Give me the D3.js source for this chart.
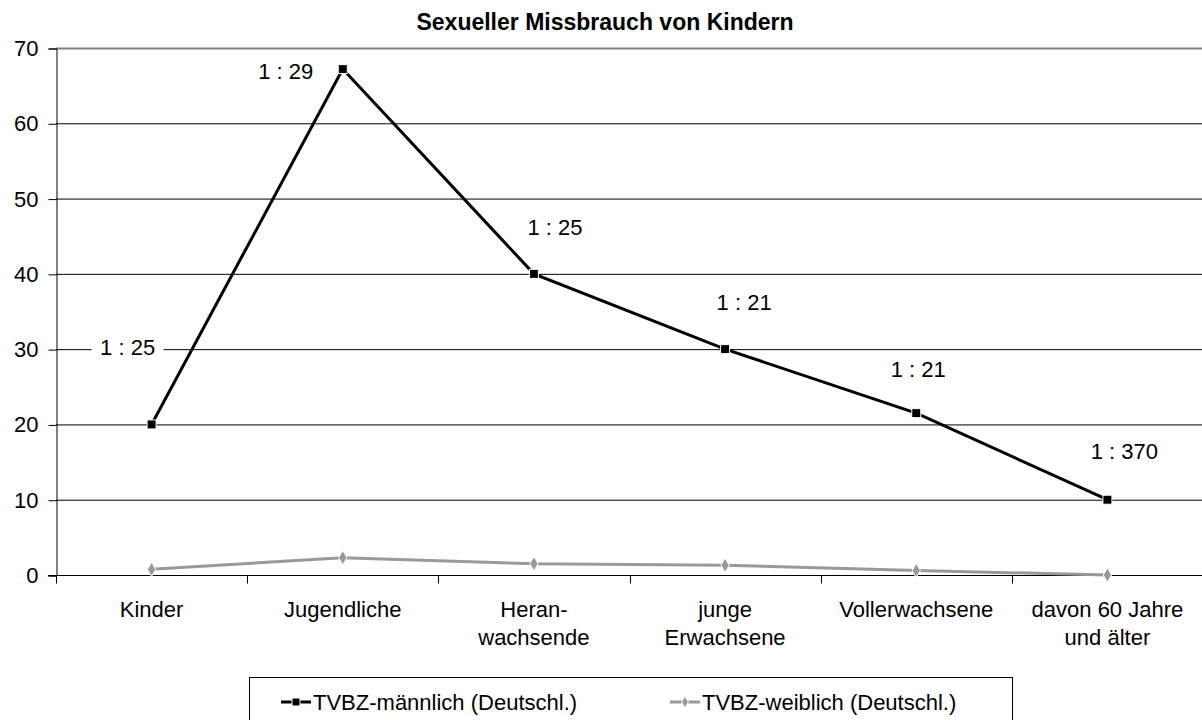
<!DOCTYPE html>
<html>
<head>
<meta charset="utf-8">
<script src="https://cdn.jsdelivr.net/npm/d3@7"></script>
<style>
  body { margin: 0; background: #fff; }
  svg { font-family: "Liberation Sans", Arial, sans-serif; }
</style>
</head>
<body>
<div id="chart"></div>
<script>
var categories = [["Kinder"], ["Jugendliche"], ["Heran-", "wachsende"], ["junge", "Erwachsene"], ["Vollerwachsene"], ["davon 60 Jahre", "und älter"]];
var maleValues = [20, 67.2, 40, 30, 21.5, 10];
var femaleValues = [0.75, 2.3, 1.5, 1.3, 0.6, 0];
var ratioLabels = ["1 : 25", "1 : 29", "1 : 25", "1 : 21", "1 : 21", "1 : 370"];
var yTicks = [0, 10, 20, 30, 40, 50, 60, 70];
var seriesNames = ["TVBZ-männlich (Deutschl.)", "TVBZ-weiblich (Deutschl.)"];

// label placement relative to the point (px)
var labelOffsets = [[-24, -77], [-57, 2], [21, -47], [19, -47], [2, -44], [17, -48]];

const width = 1202, height = 720;
const margin = { left: 56, right: -1, top: 48, bottom: 145 };
const fontSize = 22;

var svg = d3.select("#chart").append("svg")
    .attr("width", width)
    .attr("height", height);

var idx = d3.range(categories.length);

var x = d3.scaleBand()
    .domain(idx)
    .range([margin.left, width - margin.right])
    .padding(0);

var y = d3.scaleLinear()
    .domain([0, 70])
    .range([height - margin.bottom, margin.top]);

// gridlines
svg.append("g")
    .selectAll("line")
    .data(yTicks.filter(d => d > 0))
    .enter().append("line")
    .attr("x1", margin.left)
    .attr("x2", width)
    .attr("y1", d => y(d) + 0.5)
    .attr("y2", d => y(d) + 0.5)
    .attr("stroke", d => d === 70 ? "#808080" : "#000")
    .attr("stroke-width", d => d === 70 ? 2 : 1);

// y axis
var yAxis = svg.append("g")
    .attr("transform", "translate(" + (margin.left + 0.5) + ",0.5)")
    .call(d3.axisLeft(y).tickValues(yTicks).tickSize(8).tickPadding(10));
yAxis.select(".domain").attr("stroke", "#000");
yAxis.selectAll("text").attr("font-size", fontSize).attr("fill", "#000")
    .attr("font-family", "Liberation Sans, Arial, sans-serif");

// x axis
var xAxisY = y(0) + 0.5;
svg.append("line")
    .attr("x1", margin.left - 8).attr("x2", width)
    .attr("y1", xAxisY).attr("y2", xAxisY)
    .attr("stroke", "#000");
svg.append("g")
    .selectAll("line")
    .data(d3.range(categories.length + 1))
    .enter().append("line")
    .attr("x1", d => Math.round(margin.left + d * x.bandwidth()) + 0.5)
    .attr("x2", d => Math.round(margin.left + d * x.bandwidth()) + 0.5)
    .attr("y1", xAxisY)
    .attr("y2", xAxisY + 8)
    .attr("stroke", "#000");

var catText = svg.append("g")
    .selectAll("text")
    .data(categories)
    .enter().append("text")
    .attr("x", (d, i) => x(i) + x.bandwidth() / 2)
    .attr("y", 617)
    .attr("text-anchor", "middle")
    .attr("font-size", fontSize);
catText.selectAll("tspan")
    .data(d => d)
    .enter().append("tspan")
    .attr("x", function () { return this.parentNode.getAttribute("x"); })
    .attr("dy", (d, i) => i === 0 ? 0 : 28)
    .text(d => d);

var cx = i => x(i) + x.bandwidth() / 2;

var line = d3.line()
    .x((d, i) => cx(i))
    .y(d => y(d));

// female series
svg.append("path")
    .attr("d", line(femaleValues))
    .attr("fill", "none")
    .attr("stroke", "#999")
    .attr("stroke-width", 3);
svg.append("g")
    .selectAll("path")
    .data(femaleValues)
    .enter().append("path")
    .attr("d", d3.symbol(d3.symbolDiamond, 60))
    .attr("transform", (d, i) => "translate(" + cx(i) + "," + y(d) + ")")
    .attr("fill", "#999")
    .attr("stroke", "#fff")
    .attr("stroke-width", 1);

// male series
svg.append("path")
    .attr("d", line(maleValues))
    .attr("fill", "none")
    .attr("stroke", "#000")
    .attr("stroke-width", 3);
svg.append("g")
    .selectAll("rect")
    .data(maleValues)
    .enter().append("rect")
    .attr("x", (d, i) => cx(i) - 4.5)
    .attr("y", d => y(d) - 4.5)
    .attr("width", 9)
    .attr("height", 9)
    .attr("fill", "#000")
    .attr("stroke", "#fff")
    .attr("stroke-width", 1);

// ratio labels
var lab = svg.append("g")
    .selectAll("g")
    .data(ratioLabels)
    .enter().append("g")
    .attr("transform", (d, i) => "translate(" + (cx(i) + labelOffsets[i][0]) + "," + (y(maleValues[i]) + labelOffsets[i][1]) + ")");
lab.append("rect")
    .attr("x", -36).attr("y", -13)
    .attr("width", 72).attr("height", 26)
    .attr("fill", "#fff");
lab.append("text")
    .attr("text-anchor", "middle")
    .attr("dy", "0.35em")
    .attr("font-size", fontSize)
    .text(d => d);

// title
svg.append("text")
    .attr("x", 605)
    .attr("y", 30)
    .attr("text-anchor", "middle")
    .attr("font-size", 23)
    .attr("font-weight", "bold")
    .text("Sexueller Missbrauch von Kindern");

// legend
var legend = svg.append("g");
legend.append("rect")
    .attr("x", 249.5).attr("y", 677.5)
    .attr("width", 763).attr("height", 60)
    .attr("fill", "#fff")
    .attr("stroke", "#000");

var legendX = [281, 670];
var legendColors = ["#000", "#999"];
seriesNames.forEach(function (name, i) {
    var lg = legend.append("g").attr("transform", "translate(" + legendX[i] + ",702)");
    lg.append("line")
        .attr("x1", 0).attr("x2", 30)
        .attr("stroke", legendColors[i])
        .attr("stroke-width", 3);
    if (i === 0) {
        lg.append("rect").attr("x", 11).attr("y", -4).attr("width", 8).attr("height", 8)
            .attr("fill", "#000").attr("stroke", "#fff");
    } else {
        lg.append("path").attr("d", d3.symbol(d3.symbolDiamond, 40))
            .attr("transform", "translate(15,0)")
            .attr("fill", "#999").attr("stroke", "#fff");
    }
    lg.append("text")
        .attr("x", 32)
        .attr("dy", "0.35em")
        .attr("font-size", fontSize)
        .text(name);
});
</script>
</body>
</html>
